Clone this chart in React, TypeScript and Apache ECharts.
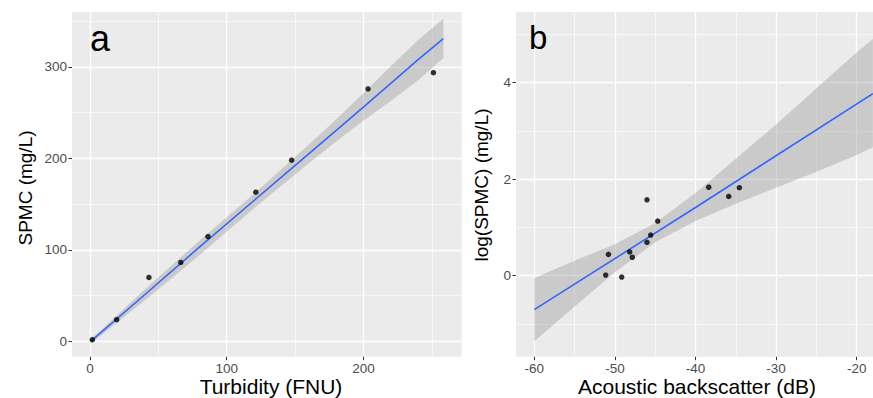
import React, { useEffect, useRef } from "react";
import * as echarts from "echarts";

// Panel a: Turbidity vs SPMC
const turbidity = [1.7, 19.5, 43.1, 66.4, 86.3, 121.3, 147.5, 203.4, 251.2];
const spmc = [1.9, 23.7, 69.9, 86.3, 114.6, 163.1, 198.0, 275.9, 293.7];
const fitAX = [0.5, 40, 80, 120, 160, 200, 240, 258.5];
const fitAY = [0, 51, 103, 154, 205, 256, 308, 331];
const bandAX = [0.5, 20, 40, 60, 80, 100, 120, 140, 160, 180, 200, 220, 240, 258.5];
const bandALo = [-2.5, 21, 44.7, 69.4, 94.1, 119.8, 145.4, 170.1, 194.8, 218.5, 241.2, 262.8, 285.5, 309.7];
const bandAHi = [2.5, 29, 56.7, 83.4, 110.1, 135.8, 161.4, 188.1, 214.8, 242.5, 271.2, 300.8, 329.5, 352.7];
const xTicksA = [0, 100, 200];
const yTicksA = [0, 100, 200, 300];

// Panel b: Acoustic backscatter vs log(SPMC)
const backscatter = [-51.14, -50.8, -49.16, -48.17, -47.84, -46.02, -46.02, -45.56, -44.69, -38.36, -35.88, -34.56];
const logSpmc = [0.01, 0.44, -0.03, 0.49, 0.38, 1.57, 0.69, 0.84, 1.13, 1.83, 1.64, 1.82];
const fitBX = [-60, -40, -18];
const fitBY = [-0.705, 1.41, 3.77];
const bandBX = [-60, -55, -50, -45, -40, -35, -30, -25, -20, -18];
const bandBLo = [-1.36, -0.64, 0.07, 0.69, 1.13, 1.49, 1.82, 2.15, 2.5, 2.66];
const bandBHi = [-0.05, 0.31, 0.65, 1.09, 1.71, 2.42, 3.13, 3.88, 4.62, 4.9];
const xTicksB = [-60, -50, -40, -30, -20];
const yTicksB = [0, 2, 4];

const FONT = "Liberation Sans, Arial, sans-serif";

function zip(a: number[], b: number[]) {
  return a.map((v, i) => [v, b[i]]);
}

function axis(gridIndex: number, min: number, max: number, step: number, ticks: number[]) {
  return {
    type: "value",
    gridIndex,
    min,
    max,
    minInterval: step,
    maxInterval: step,
    splitNumber: 4,
    axisLine: { show: false, onZero: false },
    axisTick: {
      show: true,
      length: 3.5,
      customValues: ticks,
      lineStyle: { color: "#333333", width: 1 },
    },
    axisLabel: {
      show: true,
      customValues: ticks,
      color: "#4D4D4D",
      fontSize: 13.5,
      fontFamily: FONT,
      margin: 5,
    },
    splitLine: { show: true, lineStyle: { color: "#FFFFFF", width: 1.3 } },
    minorTick: { show: false, splitNumber: 2 },
    minorSplitLine: { show: true, lineStyle: { color: "#FFFFFF", width: 0.6 } },
  };
}

function band(idx: number, xs: number[], lo: number[], hi: number[]) {
  return {
    type: "custom",
    xAxisIndex: idx,
    yAxisIndex: idx,
    clip: true,
    silent: true,
    z: 1,
    data: [[xs[0], lo[0]]],
    renderItem: (_p: any, api: any) => {
      const pts: number[][] = [];
      for (let i = 0; i < xs.length; i++) pts.push(api.coord([xs[i], hi[i]]));
      for (let i = xs.length - 1; i >= 0; i--) pts.push(api.coord([xs[i], lo[i]]));
      return {
        type: "polygon",
        shape: { points: pts },
        style: { fill: "rgba(153,153,153,0.4)" },
      };
    },
  };
}

function fitLine(idx: number, xs: number[], ys: number[]) {
  return {
    type: "line",
    xAxisIndex: idx,
    yAxisIndex: idx,
    data: zip(xs, ys),
    showSymbol: false,
    symbol: "none",
    clip: true,
    z: 2,
    lineStyle: { color: "#3366FF", width: 1.6 },
  };
}

function points(idx: number, xs: number[], ys: number[]) {
  return {
    type: "scatter",
    xAxisIndex: idx,
    yAxisIndex: idx,
    data: zip(xs, ys),
    symbolSize: 5.5,
    z: 3,
    itemStyle: { color: "#000000" },
  };
}

function txt(text: string, x: number, y: number, size: number, rot = 0, align = "center") {
  return {
    type: "text",
    x,
    y,
    rotation: rot,
    style: {
      text,
      fontSize: size,
      fontFamily: FONT,
      fill: "#000000",
      align,
      verticalAlign: "middle",
    },
    z: 10,
  };
}

export default function App() {
  const ref = useRef<HTMLDivElement>(null);
  useEffect(() => {
    if (!ref.current) return;
    const chart = echarts.init(ref.current, undefined, { renderer: "svg" });
    chart.setOption({
      animation: false,
      backgroundColor: "#FFFFFF",
      grid: [
        { left: 72, top: 12, width: 389.7, height: 344.7, show: true, backgroundColor: "#EBEBEB", borderWidth: 0, containLabel: false, outerBoundsMode: "none" },
        { left: 516, top: 12, width: 357, height: 344.7, show: true, backgroundColor: "#EBEBEB", borderWidth: 0, containLabel: false, outerBoundsMode: "none" },
      ],
      xAxis: [axis(0, -13.17, 271.9, 100, xTicksA), axis(1, -62.27, -17.98, 10, xTicksB)],
      yAxis: [axis(0, -16.7, 360, 100, yTicksA), axis(1, -1.68, 5.46, 2, yTicksB)],
      series: [
        band(0, bandAX, bandALo, bandAHi),
        fitLine(0, fitAX, fitAY),
        points(0, turbidity, spmc),
        band(1, bandBX, bandBLo, bandBHi),
        fitLine(1, fitBX, fitBY),
        points(1, backscatter, logSpmc),
      ],
      graphic: [
        txt("a", 90, 38, 36, 0, "left"),
        txt("b", 529, 37, 33, 0, "left"),
        txt("Turbidity (FNU)", 271, 386, 21),
        txt("Acoustic backscatter (dB)", 697, 386, 21),
        txt("SPMC (mg/L)", 25, 188, 19, Math.PI / 2),
        txt("log(SPMC) (mg/L)", 481, 185, 19, Math.PI / 2),
      ],
    });
    return () => chart.dispose();
  }, []);
  return (
    <div
      ref={ref}
      style={{ position: "fixed", left: 0, top: 0, width: 873, height: 398, background: "#fff" }}
    />
  );
}
